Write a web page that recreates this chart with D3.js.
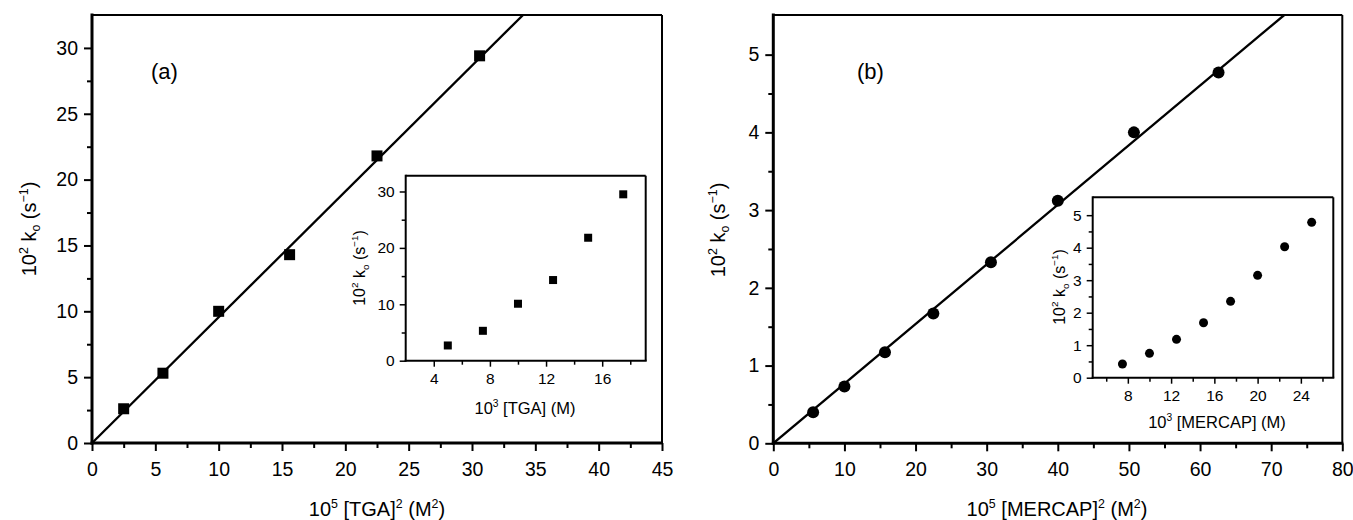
<!DOCTYPE html>
<html>
<head>
<meta charset="utf-8">
<script src="https://cdn.jsdelivr.net/npm/d3@7"></script>
<style>
  body { margin: 0; background: #fff; }
  svg { display: block; }
</style>
</head>
<body>
<script>
// ---- data ----
// panel (a): k_o against [TGA]^2, inset k_o against [TGA]
const tgaSq = [2.5, 5.6, 10.0, 15.6, 22.5, 30.6];
const tgaKo = [2.6, 5.3, 10.0, 14.3, 21.8, 29.4];
const tgaConc = [5, 7.5, 10, 12.5, 15, 17.5];
const tgaKoInset = [2.7, 5.3, 10.1, 14.3, 21.8, 29.5];
const tgaSlope = 0.955;

// panel (b): k_o against [MERCAP]^2, inset k_o against [MERCAP]
const mercSq = [5.6, 10.0, 15.7, 22.5, 30.6, 40.0, 50.7, 62.6];
const mercKo = [0.40, 0.73, 1.17, 1.67, 2.33, 3.12, 4.00, 4.77];
const mercConc = [7.5, 10, 12.5, 15, 17.5, 20, 22.5, 25];
const mercKoInset = [0.42, 0.75, 1.18, 1.69, 2.35, 3.15, 4.03, 4.78];
const mercSlope = 0.0767;

// tick labels
const aXTicks = [0, 5, 10, 15, 20, 25, 30, 35, 40, 45];
const aYTicks = [0, 5, 10, 15, 20, 25, 30];
const aInXTicks = [4, 8, 12, 16];
const aInYTicks = [0, 10, 20, 30];
const bXTicks = [0, 10, 20, 30, 40, 50, 60, 70, 80];
const bYTicks = [0, 1, 2, 3, 4, 5];
const bInXTicks = [8, 12, 16, 20, 24];
const bInYTicks = [0, 1, 2, 3, 4, 5];

const FONT = "'Liberation Sans', Arial, Helvetica, sans-serif";

const svg = d3.select("body").append("svg")
  .attr("width", 1353)
  .attr("height", 520)
  .attr("font-family", FONT);

// minor ticks sit halfway between the majors
function midTicks(ticks, extraBefore, extraAfter) {
  const step = ticks[1] - ticks[0];
  const out = [];
  if (extraBefore) out.push(ticks[0] - step / 2);
  for (let i = 0; i < ticks.length - 1; i++) out.push((ticks[i] + ticks[i + 1]) / 2);
  if (extraAfter) out.push(ticks[ticks.length - 1] + step / 2);
  return out;
}

// text with super/subscripts, parts = [[text, "sup"|"sub"|null], ...]
function richText(sel, parts, size) {
  const text = sel.attr("font-size", size).attr("fill", "#000");
  let shift = 0;
  parts.forEach(([t, kind]) => {
    const target = kind === "sup" ? -0.42 * size : kind === "sub" ? 0.22 * size : 0;
    text.append("tspan")
      .attr("dy", target - shift)
      .attr("font-size", kind ? size * 0.62 : size)
      .text(t);
    shift = target;
  });
  return text;
}

function addPanel(p) {
  const x = d3.scaleLinear().domain(p.xDomain).range([p.left, p.right]);
  const y = d3.scaleLinear().domain(p.yDomain).range([p.bottom, p.top]);
  const g = svg.append("g");

  if (p.inset) {
    g.append("rect")
      .attr("x", p.left).attr("y", p.top)
      .attr("width", p.right - p.left).attr("height", p.bottom - p.top)
      .attr("fill", "#fff");
  }

  const styleAxis = a => {
    a.select(".domain").remove();
    a.attr("font-size", p.fontSize).attr("font-family", FONT);
    a.selectAll(".tick line").attr("stroke", "#000").attr("stroke-width", p.tickW);
    a.selectAll(".tick text").attr("fill", "#000");
  };

  // major ticks + labels
  g.append("g")
    .attr("transform", `translate(0,${p.bottom})`)
    .call(d3.axisBottom(x).tickValues(p.xTicks).tickSize(p.major).tickPadding(p.xPad).tickFormat(d3.format("d")))
    .call(styleAxis);
  g.append("g")
    .attr("transform", `translate(${p.left},0)`)
    .call(d3.axisLeft(y).tickValues(p.yTicks).tickSize(p.major).tickPadding(p.yPad).tickFormat(d3.format("d")))
    .call(styleAxis);

  // minor ticks
  g.append("g")
    .attr("transform", `translate(0,${p.bottom})`)
    .call(d3.axisBottom(x).tickValues(p.xMinor).tickSize(p.minor).tickFormat(""))
    .call(styleAxis);
  g.append("g")
    .attr("transform", `translate(${p.left},0)`)
    .call(d3.axisLeft(y).tickValues(p.yMinor).tickSize(p.minor).tickFormat(""))
    .call(styleAxis);

  // frame: heavier left/bottom axes, lighter top/right
  g.append("line").attr("x1", p.left).attr("x2", p.right).attr("y1", p.top).attr("y2", p.top)
    .attr("stroke", "#000").attr("stroke-width", p.frameW);
  g.append("line").attr("x1", p.right).attr("x2", p.right).attr("y1", p.top).attr("y2", p.bottom)
    .attr("stroke", "#000").attr("stroke-width", p.frameW);
  g.append("line").attr("x1", p.left).attr("x2", p.left).attr("y1", p.top - p.axisW / 2).attr("y2", p.bottom + p.axisW / 2)
    .attr("stroke", "#000").attr("stroke-width", p.axisW);
  g.append("line").attr("x1", p.left - p.axisW / 2).attr("x2", p.right + p.frameW / 2).attr("y1", p.bottom).attr("y2", p.bottom)
    .attr("stroke", "#000").attr("stroke-width", p.axisW);

  return { x, y, g };
}

function fitLine(panel, slope, id) {
  const [x0, x1] = panel.x.domain();
  const yTop = panel.y.domain()[1];
  const xEnd = Math.min(x1, yTop / slope);
  svg.append("clipPath").attr("id", id).append("rect")
    .attr("x", panel.x(x0)).attr("y", panel.y(yTop))
    .attr("width", panel.x(x1) - panel.x(x0)).attr("height", panel.y(0) - panel.y(yTop));
  panel.g.append("path")
    .datum([[0, 0], [xEnd, xEnd * slope]])
    .attr("clip-path", `url(#${id})`)
    .attr("d", d3.line().x(d => panel.x(d[0])).y(d => panel.y(d[1])))
    .attr("fill", "none")
    .attr("stroke", "#000")
    .attr("stroke-width", 2.3);
}

function squares(panel, xs, ys, size) {
  panel.g.selectAll(null).data(xs).join("rect")
    .attr("x", (d, i) => panel.x(d) - size / 2)
    .attr("y", (d, i) => panel.y(ys[i]) - size / 2)
    .attr("width", size).attr("height", size)
    .attr("fill", "#000");
}

function circles(panel, xs, ys, r) {
  panel.g.selectAll(null).data(xs).join("circle")
    .attr("cx", d => panel.x(d))
    .attr("cy", (d, i) => panel.y(ys[i]))
    .attr("r", r)
    .attr("fill", "#000");
}

const mainStyle = { major: 8, minor: 5, xPad: 11, yPad: 6, fontSize: 19.5, tickW: 2, axisW: 3, frameW: 2 };
const insetStyle = { major: 6, minor: 4, xPad: 6, yPad: 5, fontSize: 15.5, tickW: 1.5, axisW: 2, frameW: 2, inset: true };

const koLabel = [["10"], ["2", "sup"], [" k"], ["o", "sub"], [" (s"], ["\u22121", "sup"], [")"]];

// ---------- panel (a) ----------
const pa = addPanel(Object.assign({}, mainStyle, {
  left: 92, right: 662, top: 15, bottom: 443,
  xDomain: [0, 45], yDomain: [0, 32.5],
  xTicks: aXTicks, xMinor: midTicks(aXTicks),
  yTicks: aYTicks, yMinor: midTicks(aYTicks)
}));
fitLine(pa, tgaSlope, "clipA");
squares(pa, tgaSq, tgaKo, 11);
pa.g.append("text").attr("x", 151).attr("y", 79).attr("font-size", 22).text("(a)");
richText(svg.append("text").attr("text-anchor", "middle").attr("x", 377).attr("y", 516),
  [["10"], ["5", "sup"], [" [TGA]"], ["2", "sup"], [" (M"], ["2", "sup"], [")"]], 20);
richText(svg.append("text").attr("text-anchor", "middle").attr("transform", "translate(36,229) rotate(-90)"),
  koLabel, 20);

const pai = addPanel(Object.assign({}, insetStyle, {
  left: 405.7, right: 645.7, top: 175.7, bottom: 360.7,
  xDomain: [2, 19.1], yDomain: [0, 32.8],
  xTicks: aInXTicks, xMinor: midTicks(aInXTicks, false, true),
  yTicks: aInYTicks, yMinor: midTicks(aInYTicks)
}));
squares(pai, tgaConc, tgaKoInset, 8);
richText(svg.append("text").attr("text-anchor", "middle").attr("x", 525).attr("y", 414),
  [["10"], ["3", "sup"], [" [TGA] (M)"]], 16.5);
richText(svg.append("text").attr("text-anchor", "middle").attr("transform", "translate(365,268) rotate(-90)"),
  koLabel, 16);

// ---------- panel (b) ----------
const pb = addPanel(Object.assign({}, mainStyle, {
  left: 773.3, right: 1342.3, top: 15, bottom: 443.3,
  xDomain: [0, 80], yDomain: [0, 5.51],
  xTicks: bXTicks, xMinor: midTicks(bXTicks),
  yTicks: bYTicks, yMinor: midTicks(bYTicks)
}));
fitLine(pb, mercSlope, "clipB");
circles(pb, mercSq, mercKo, 6);
pb.g.append("text").attr("x", 857).attr("y", 79).attr("font-size", 22).text("(b)");
richText(svg.append("text").attr("text-anchor", "middle").attr("x", 1057).attr("y", 516),
  [["10"], ["5", "sup"], [" [MERCAP]"], ["2", "sup"], [" (M"], ["2", "sup"], [")"]], 20);
richText(svg.append("text").attr("text-anchor", "middle").attr("transform", "translate(725,230) rotate(-90)"),
  koLabel, 20);

const pbi = addPanel(Object.assign({}, insetStyle, {
  left: 1092.7, right: 1333.3, top: 197.3, bottom: 377.7,
  xDomain: [4.75, 27], yDomain: [0, 5.55],
  xTicks: bInXTicks, xMinor: midTicks(bInXTicks, true, true),
  yTicks: bInYTicks, yMinor: midTicks(bInYTicks)
}));
circles(pbi, mercConc, mercKoInset, 4.5);
richText(svg.append("text").attr("text-anchor", "middle").attr("x", 1217).attr("y", 428),
  [["10"], ["3", "sup"], [" [MERCAP] (M)"]], 16.5);
richText(svg.append("text").attr("text-anchor", "middle").attr("transform", "translate(1065,287) rotate(-90)"),
  koLabel, 16);
</script>
</body>
</html>
